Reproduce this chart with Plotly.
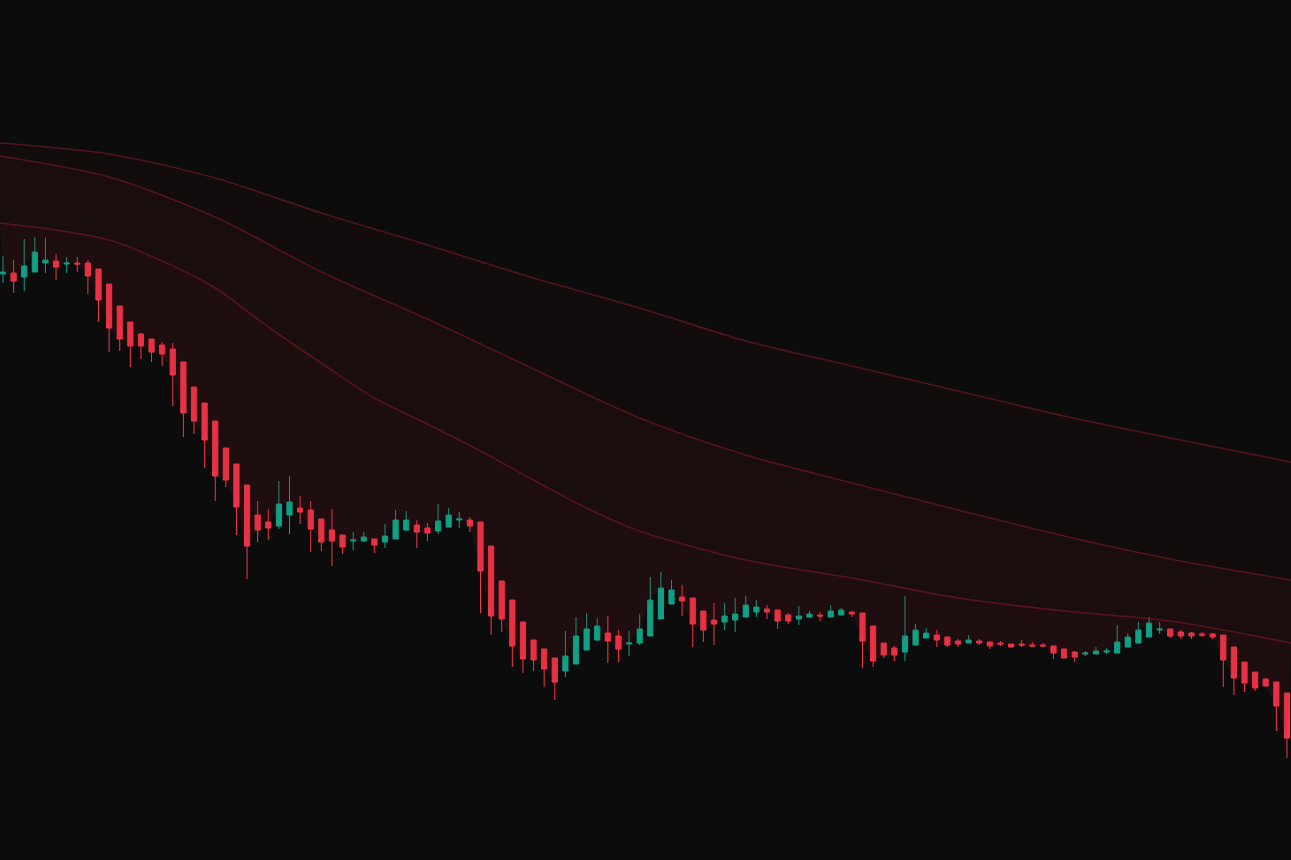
import plotly.graph_objects as go

# ---- candle data (index positions) ----
idx = list(range(122))

opens = [58.6, 58.7, 58.3, 58.8, 59.7, 59.9, 59.6, 59.7, 59.7, 59.1,
         57.6, 55.4, 53.8, 52.6, 52.1, 51.5, 51.1, 49.8, 47.3, 45.7,
         43.9, 41.2, 39.6, 37.5, 34.5, 33.8, 33.4, 34.5, 35.2, 35.0,
         34.1, 33.0, 32.5, 31.9, 31.9, 32.1, 31.8, 32.1, 33.0, 33.5,
         33.2, 32.9, 33.3, 34.0, 34.0, 33.8, 31.4, 27.9, 26.0, 23.8,
         22.0, 21.1, 20.2, 18.9, 19.6, 21.0, 22.0, 22.7, 22.4, 21.6,
         21.7, 22.4, 24.1, 25.6, 26.3, 26.2, 24.9, 24.0, 23.8, 24.0,
         24.3, 24.8, 25.1, 25.0, 24.5, 24.1, 24.3, 24.5, 24.3, 24.5,
         24.8, 24.7, 23.4, 21.7, 21.2, 20.8, 21.5, 22.2, 22.5, 22.3,
         21.9, 21.7, 21.9, 21.8, 21.7, 21.6, 21.6, 21.5, 21.5, 21.4,
         21.1, 20.8, 20.6, 20.6, 20.8, 20.7, 21.3, 21.7, 22.3, 23.0,
         23.1, 22.8, 22.7, 22.6, 22.6, 22.5, 21.3, 19.8, 18.8, 18.1,
         17.8, 16.7]
highs = [60.4, 60.0, 62.1, 62.3, 62.2, 60.6, 60.3, 60.3, 60.0, 59.1,
         57.6, 55.4, 53.8, 52.7, 52.1, 51.8, 51.7, 49.8, 47.3, 45.7,
         43.9, 41.2, 39.6, 37.5, 35.9, 35.1, 37.9, 38.4, 36.4, 35.9,
         34.1, 35.1, 32.5, 32.8, 32.8, 32.1, 33.6, 35.0, 34.9, 34.0,
         33.7, 35.6, 35.2, 34.8, 34.3, 33.8, 31.4, 27.9, 26.0, 23.8,
         22.0, 21.1, 20.2, 22.9, 24.3, 24.7, 24.2, 24.4, 23.0, 22.9,
         24.6, 28.3, 28.8, 28.0, 27.5, 26.2, 24.9, 25.7, 25.7, 26.2,
         26.4, 26.0, 25.5, 25.0, 24.7, 25.4, 24.9, 24.8, 25.5, 25.2,
         24.9, 24.7, 23.4, 21.7, 21.4, 26.4, 23.6, 23.2, 23.0, 22.3,
         22.1, 22.5, 22.1, 21.8, 21.9, 21.6, 22.0, 21.8, 21.7, 21.4,
         21.1, 20.9, 20.9, 21.3, 21.2, 23.5, 22.7, 23.8, 24.3, 23.8,
         23.1, 23.0, 22.8, 22.8, 22.7, 22.5, 21.3, 19.8, 18.8, 18.2,
         17.8, 16.7]
lows = [57.7, 56.7, 56.9, 58.8, 58.7, 58.0, 58.7, 58.8, 56.6, 53.8,
        50.8, 50.9, 49.3, 50.1, 49.8, 49.4, 45.4, 42.3, 42.6, 39.2,
        35.9, 37.3, 32.5, 28.1, 31.8, 32.0, 33.1, 32.6, 33.6, 30.8,
        30.9, 29.4, 30.6, 31.0, 31.8, 30.7, 31.2, 32.1, 32.9, 31.2,
        31.9, 32.6, 33.3, 33.2, 32.8, 24.7, 22.5, 22.8, 19.3, 18.7,
        18.9, 17.3, 16.0, 18.3, 19.6, 21.0, 21.9, 19.7, 19.8, 20.4,
        21.5, 22.4, 24.1, 25.6, 24.4, 21.3, 21.8, 21.5, 23.0, 22.8,
        24.3, 24.3, 24.1, 23.1, 23.6, 23.5, 24.2, 23.9, 24.3, 24.5,
        24.3, 19.2, 19.3, 20.2, 19.9, 19.9, 21.5, 22.2, 21.3, 21.3,
        21.3, 21.7, 21.5, 21.1, 21.4, 21.3, 21.3, 21.3, 21.3, 20.1,
        20.2, 19.8, 20.4, 20.6, 20.6, 20.7, 21.3, 21.7, 22.3, 22.6,
        22.2, 22.1, 22.1, 22.3, 22.1, 17.3, 16.5, 16.8, 16.9, 17.3,
        12.9, 10.2]
closes = [58.8, 57.9, 59.4, 60.8, 60.0, 59.3, 59.7, 59.6, 58.4, 56.0,
          53.2, 52.1, 51.4, 51.4, 50.8, 50.6, 48.5, 44.7, 43.9, 42.0,
          38.4, 38.0, 35.3, 31.4, 33.0, 33.2, 35.6, 35.8, 34.8, 33.1,
          31.8, 31.9, 31.3, 32.0, 32.3, 31.5, 32.4, 34.0, 34.0, 32.8,
          32.7, 33.9, 34.5, 34.1, 33.4, 28.9, 24.4, 24.1, 21.4, 20.1,
          20.0, 19.1, 17.8, 20.4, 22.4, 23.1, 23.4, 21.9, 21.1, 21.7,
          23.1, 26.0, 27.2, 27.0, 25.9, 23.6, 23.0, 23.6, 24.4, 24.6,
          25.5, 25.3, 24.8, 23.9, 23.9, 24.4, 24.6, 24.4, 24.9, 25.0,
          24.6, 21.9, 19.9, 20.5, 20.5, 22.4, 23.0, 22.7, 22.0, 21.5,
          21.6, 22.0, 21.7, 21.4, 21.6, 21.3, 21.5, 21.4, 21.4, 20.7,
          20.2, 20.3, 20.7, 20.9, 20.9, 21.8, 22.3, 23.0, 23.7, 23.1,
          22.4, 22.4, 22.4, 22.5, 22.3, 20.0, 18.2, 17.7, 17.2, 17.4,
          15.4, 12.2]

# ---- moving-average bands, read at sample positions ----
ma_fast_x = [-0.3, 5, 10, 15, 20, 25, 30, 35, 40, 45, 50, 55, 60, 70, 80, 90, 100, 110, 121.4]
ma_fast = [63.7, 63.0, 62.0, 59.9, 57.2, 53.3, 49.7, 46.2, 43.6, 40.9, 38.0, 35.2, 32.9,
           30.0, 28.2, 26.2, 24.9, 23.9, 21.7]
ma_slow_x = [-0.3, 10, 20, 30, 40, 50, 60, 70, 80, 90, 100, 110, 121.4]
ma_mid = [70.4, 68.3, 64.3, 58.8, 54.1, 49.1, 44.2, 40.5, 37.7, 35.0, 32.4, 30.1, 28.0]
ma_slow = [71.7, 70.6, 68.2, 64.7, 61.5, 58.2, 55.2, 51.9, 49.4, 46.9, 44.4, 42.2, 39.8]

BG = "#0d0c0c"
RED = "#F7374A"
GREEN = "#10A086"
LINE = "rgba(160,32,44,0.45)"

fig = go.Figure()
fig.add_trace(go.Scatter(x=ma_slow_x, y=ma_slow, mode="lines",
                         line=dict(color=LINE, width=1.6, shape="spline", smoothing=0.8),
                         hoverinfo="skip"))
fig.add_trace(go.Scatter(x=ma_slow_x, y=ma_mid, mode="lines",
                         line=dict(color=LINE, width=1.6, shape="spline", smoothing=0.8),
                         fill="tonexty", fillcolor="rgba(120,20,22,0.06)",
                         hoverinfo="skip"))
fig.add_trace(go.Scatter(x=ma_fast_x, y=ma_fast, mode="lines",
                         line=dict(color=LINE, width=1.6, shape="spline", smoothing=0.8),
                         fill="tonexty", fillcolor="rgba(125,25,32,0.12)",
                         hoverinfo="skip"))
fig.add_trace(go.Scatter(x=idx, y=closes, mode="lines",
                         line=dict(color="rgba(0,0,0,0)", width=0),
                         fill="tonexty", fillcolor="rgba(135,25,36,0.15)",
                         hoverinfo="skip"))
fig.add_trace(go.Candlestick(
    x=idx, open=opens, high=highs, low=lows, close=closes,
    increasing=dict(line=dict(color=GREEN, width=1), fillcolor=GREEN),
    decreasing=dict(line=dict(color=RED, width=1), fillcolor=RED),
    whiskerwidth=0,
))

fig.update_layout(
    width=1291, height=860,
    margin=dict(l=0, r=0, t=0, b=0),
    paper_bgcolor=BG, plot_bgcolor=BG,
    showlegend=False,
    xaxis=dict(visible=False, range=[-0.283, 121.38], rangeslider=dict(visible=False),
               fixedrange=True),
    yaxis=dict(visible=False, range=[0, 86], fixedrange=True),
)

fig.write_html(
    "out.html",
    config={"displayModeBar": False},
    post_script="document.body.style.margin='0';document.body.style.background='#0d0c0c';"
                "document.body.style.overflow='hidden';",
)
